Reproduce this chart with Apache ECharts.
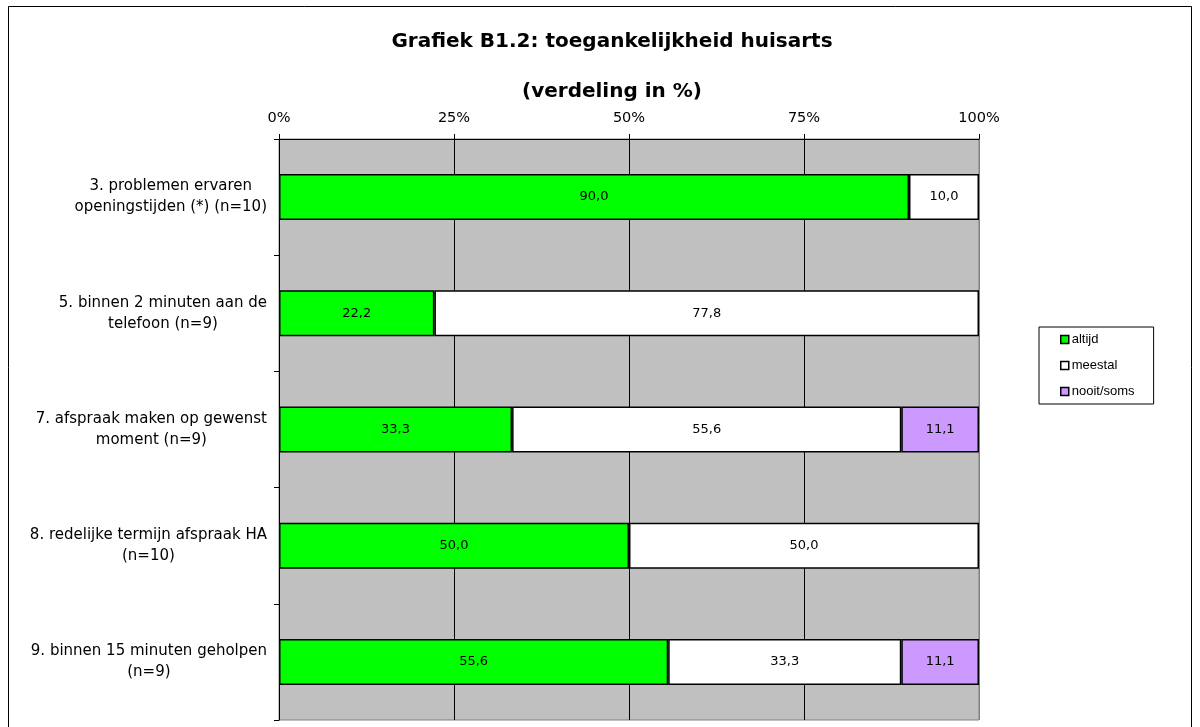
<!DOCTYPE html>
<html>
<head>
<meta charset="utf-8">
<script src="https://cdn.jsdelivr.net/npm/echarts@6/dist/echarts.min.js"></script>
<style>html,body{margin:0;padding:0;background:#fff;}#chart{width:1200px;height:727px;}</style>
</head>
<body>
<div id="chart"></div>
<script>
const titleText = 'Grafiek B1.2: toegankelijkheid huisarts';
const subtitleText = '(verdeling in %)';
const categories = [
  '3. problemen ervaren\nopeningstijden (*) (n=10)',
  '5. binnen 2 minuten aan de\ntelefoon (n=9)',
  '7. afspraak maken op gewenst\nmoment (n=9)',
  '8. redelijke termijn afspraak HA\n(n=10)',
  '9. binnen 15 minuten geholpen\n(n=9)'
];
const seriesNames = ['altijd', 'meestal', 'nooit/soms'];
const altijd = [90.0, 22.2, 33.3, 50.0, 55.6];
const meestal = [10.0, 77.8, 55.6, 50.0, 33.3];
const nooitSoms = [null, null, 11.1, null, 11.1];
const xTicks = [0, 25, 50, 75, 100];

const colors = ['#00FF00', '#FFFFFF', '#CC99FF'];
const fmt = v => v.toFixed(1).replace('.', ',');

const chart = echarts.init(document.getElementById('chart'));
const mk = (name, data, color) => ({
  name: name,
  type: 'bar',
  stack: 'total',
  data: data,
  barWidth: 46,
  itemStyle: { color: color, borderColor: '#000', borderWidth: 1.5 },
  label: {
    show: true, position: 'inside', color: '#000',
    fontFamily: 'DejaVu Sans', fontSize: 13,
    formatter: p => (p.value == null ? '' : fmt(p.value))
  }
});

chart.setOption({
  animation: false,
  backgroundColor: '#fff',
  textStyle: { fontFamily: 'DejaVu Sans' },
  title: [
    { text: titleText, left: 607, textAlign: 'center', top: 27,
      textStyle: { fontFamily: 'DejaVu Sans', fontWeight: 'bold', fontSize: 20, color: '#000' } },
    { text: subtitleText, left: 607, textAlign: 'center', top: 77,
      textStyle: { fontFamily: 'DejaVu Sans', fontWeight: 'bold', fontSize: 20, color: '#000' } }
  ],
  graphic: [{
    type: 'rect', silent: true, z: -1,
    shape: { x: 8.5, y: 6.5, width: 1183, height: 760 },
    style: { fill: 'none', stroke: '#000', lineWidth: 1 }
  }],
  legend: {
    data: seriesNames,
    orient: 'vertical',
    left: 1039, top: 327,
    backgroundColor: '#fff',
    borderColor: '#000', borderWidth: 1,
    padding: [5, 19, 5, 21],
    itemGap: 11,
    itemWidth: 8, itemHeight: 8,
    icon: 'rect',
    selectedMode: false,
    itemStyle: { borderColor: '#000', borderWidth: 1.5 },
    textStyle: { fontFamily: 'Liberation Sans', fontSize: 13, lineHeight: 15, color: '#000', padding: [0, 0, 0, -2] }
  },
  grid: {
    left: 279, right: 221, top: 139, bottom: 7,
    show: true, backgroundColor: '#C0C0C0', borderColor: '#808080', borderWidth: 1
  },
  xAxis: {
    type: 'value', position: 'top', min: 0, max: 100, interval: 25,
    axisLine: { show: true, lineStyle: { color: '#000', width: 1 } },
    axisTick: { show: true, length: 5, lineStyle: { color: '#000' } },
    axisLabel: { color: '#000', fontSize: 14.5, margin: 13, fontFamily: 'DejaVu Sans',
      formatter: v => (xTicks.indexOf(v) >= 0 ? v + '%' : '') },
    splitLine: { show: true, lineStyle: { color: ['#000', '#000', '#000', '#000', '#808080'], width: 1 } }
  },
  yAxis: {
    type: 'category', data: categories, inverse: true,
    axisLine: { show: true, lineStyle: { color: '#000', width: 1 } },
    axisTick: { show: true, length: 5, lineStyle: { color: '#000' } },
    axisLabel: {
      margin: 12,
      formatter: v => '{c|' + v + '}',
      rich: { c: { align: 'center', fontFamily: 'DejaVu Sans', fontSize: 15, lineHeight: 21, color: '#000' } }
    },
    splitLine: { show: false }
  },
  series: [
    mk(seriesNames[0], altijd, colors[0]),
    mk(seriesNames[1], meestal, colors[1]),
    mk(seriesNames[2], nooitSoms, colors[2])
  ]
});
</script>
</body>
</html>
